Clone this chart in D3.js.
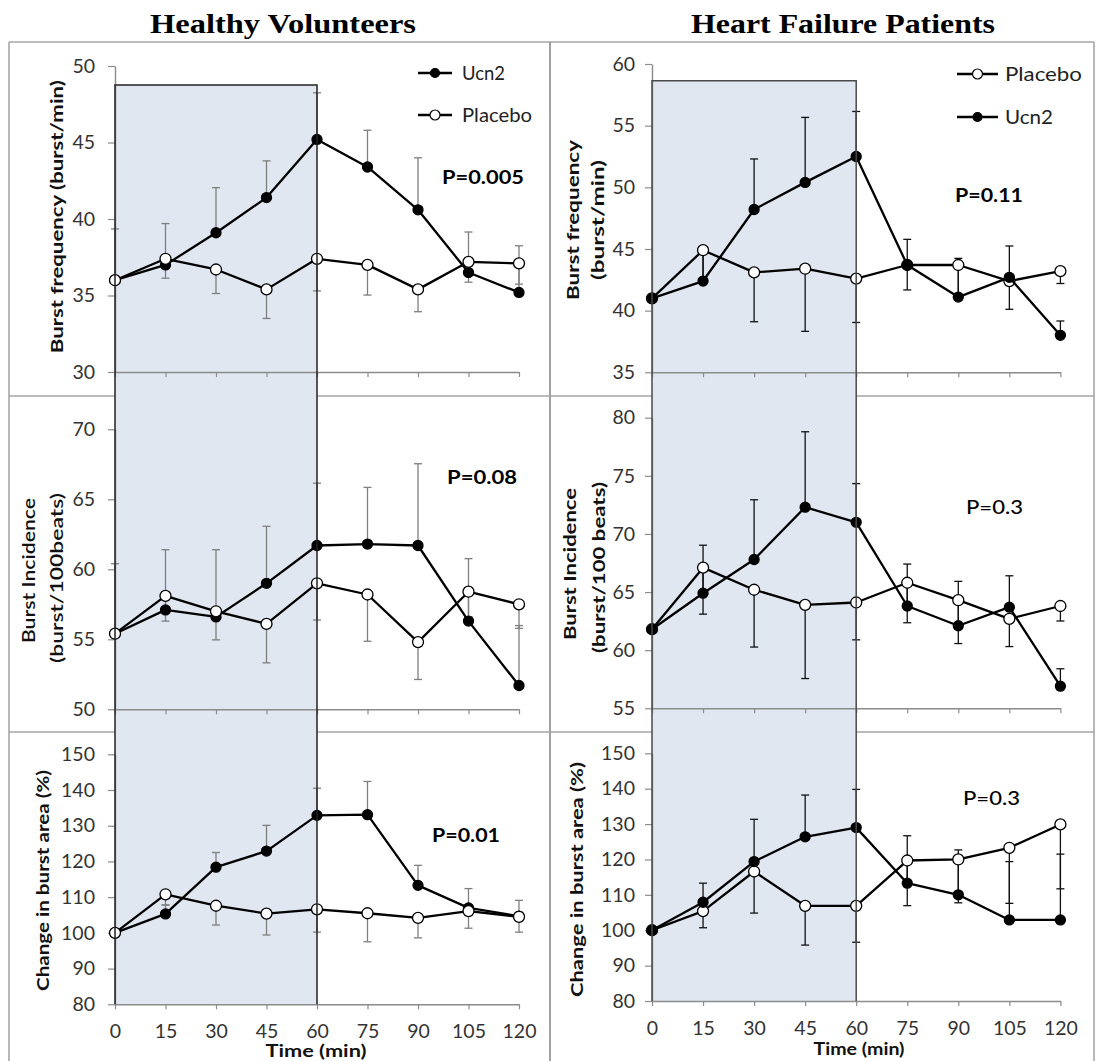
<!DOCTYPE html>
<html>
<head>
<meta charset="utf-8">
<script src="https://cdn.jsdelivr.net/npm/d3@7"></script>
<style>
  html, body { margin: 0; padding: 0; background: #fff; }
  svg { display: block; }
  text { font-family: Lato, "Open Sans", "Liberation Sans", sans-serif; }
</style>
</head>
<body>
<svg id="chart" width="1096" height="1061"></svg>
<script>
// ---------------- DATA ----------------
const times = [0, 15, 30, 45, 60, 75, 90, 105, 120];
const columnTitles = ["Healthy Volunteers", "Heart Failure Patients"];

// Healthy volunteers - burst frequency (burst/min)
const hvFreqUcn2 = [36.0, 37.0, 39.1, 41.4, 45.2, 43.4, 40.6, 36.5, 35.2];
const hvFreqUcn2Err = [3.35, 2.7, 2.95, 2.4, 3.05, 2.4, 3.4, 2.65, 3.05];
const hvFreqPlacebo = [36.0, 37.4, 36.7, 35.4, 37.4, 37.0, 35.4, 37.2, 37.1];
const hvFreqPlaceboErr = [0, 1.27, 1.57, 1.9, 2.1, 1.97, 1.46, 1.33, 1.36];
const hvFreqTicks = [30, 35, 40, 45, 50];

// Healthy volunteers - burst incidence (burst/100beats)
const hvIncUcn2 = [55.4, 57.1, 56.6, 59.0, 61.7, 61.8, 61.7, 56.3, 51.7];
const hvIncUcn2Err = [5.0, 4.3, 4.8, 4.07, 4.45, 4.05, 5.84, 4.46, 4.28];
const hvIncPlacebo = [55.4, 58.1, 57.0, 56.1, 59.0, 58.2, 54.8, 58.4, 57.5];
const hvIncPlaceboErr = [0, 1.8, 2.04, 2.78, 2.62, 3.34, 2.67, 1.8, 1.72];
const hvIncTicks = [50, 55, 60, 65, 70];

// Healthy volunteers - change in burst area (%)
const hvAreaUcn2 = [100, 105.3, 118.4, 122.9, 132.9, 133.1, 113.3, 107.0, 104.7];
const hvAreaUcn2Err = [0, 2.5, 4.1, 7.2, 7.6, 9.3, 5.6, 5.4, 4.4];
const hvAreaPlacebo = [100, 110.8, 107.6, 105.4, 106.6, 105.5, 104.2, 106.1, 104.5];
const hvAreaPlaceboErr = [0, 3.0, 5.4, 6.0, 6.4, 8.0, 5.6, 4.8, 4.3];
const hvAreaTicks = [80, 90, 100, 110, 120, 130, 140, 150];

// Heart failure - burst frequency (burst/min)
const hfFreqUcn2 = [41.0, 42.4, 48.2, 50.4, 52.5, 43.7, 41.1, 42.7, 38.0];
const hfFreqUcn2Err = [0, 2.3, 4.1, 5.27, 3.65, 2.08, 3.14, 2.54, 1.16];
const hfFreqPlacebo = [41.0, 44.9, 43.1, 43.4, 42.6, 43.7, 43.7, 42.4, 43.2];
const hfFreqPlaceboErr = [0, 2.3, 4.0, 5.08, 3.56, 2.02, 2.5, 2.29, 1.0];
const hfFreqTicks = [35, 40, 45, 50, 55, 60];

// Heart failure - burst incidence (burst/100 beats)
const hfIncUcn2 = [61.8, 64.9, 67.8, 72.3, 71.0, 63.8, 62.1, 63.7, 56.9];
const hfIncUcn2Err = [0, 4.13, 5.14, 6.49, 3.33, 3.61, 3.82, 2.7, 1.5];
const hfIncPlacebo = [61.8, 67.1, 65.2, 63.9, 64.1, 65.8, 64.3, 62.7, 63.8];
const hfIncPlaceboErr = [0, 4.0, 4.93, 6.34, 3.21, 3.44, 3.73, 2.39, 1.29];
const hfIncTicks = [55, 60, 65, 70, 75, 80];

// Heart failure - change in burst area (%)
const hfAreaUcn2 = [100, 107.9, 119.4, 126.4, 129.0, 113.3, 110.0, 102.9, 102.9];
const hfAreaUcn2Err = [0, 5.4, 11.95, 11.8, 10.8, 13.4, 12.7, 16.5, 18.6];
const hfAreaPlacebo = [100, 105.4, 116.6, 106.9, 106.9, 119.7, 120.0, 123.3, 129.9];
const hfAreaPlaceboErr = [0, 4.7, 11.75, 11.1, 10.3, 12.75, 12.25, 15.7, 18.2];
const hfAreaTicks = [80, 90, 100, 110, 120, 130, 140, 150];

const pValues = ["P=0.005", "P=0.08", "P=0.01", "P=0.11", "P=0.3", "P=0.3"];

// ---------------- LAYOUT ----------------
const svg = d3.select("#chart");

const colLayout = [
  { x0: 115, x1: 519, shade: { y0: 85, y1: 1004.3 }, shadeStroke: "#222", errColor: "#7f7f7f",
    tickPad: 13, titleX: 283, titleLen: 266, legendLineX: [418, 452], legendTextX: 462 },
  { x0: 652, x1: 1060.4, shade: { y0: 80.7, y1: 1001 }, shadeStroke: "#4a4a4a", errColor: "#111",
    tickPad: 10, titleX: 843, titleLen: 304, legendLineX: [957, 998], legendTextX: 1005 }
];

const panels = [
  { col: 0, range: [372, 66], ticks: hvFreqTicks,
    series: [
      { name: "Ucn2", vals: hvFreqUcn2, err: hvFreqUcn2Err, dir: 1, filled: true },
      { name: "Placebo", vals: hvFreqPlacebo, err: hvFreqPlaceboErr, dir: -1, filled: false }],
    labels: [{ t: "Burst frequency (burst/min)", x: 56, cy: 216.7, len: 273 }],
    p: { t: pValues[0], x: 442, y: 184, len: 82, w: 700 },
    legend: [{ name: "Ucn2", filled: true, y: 73, len: 43 }, { name: "Placebo", filled: false, y: 115, len: 70 }] },
  { col: 0, range: [709.3, 429.3], ticks: hvIncTicks,
    series: [
      { name: "Ucn2", vals: hvIncUcn2, err: hvIncUcn2Err, dir: 1, filled: true },
      { name: "Placebo", vals: hvIncPlacebo, err: hvIncPlaceboErr, dir: -1, filled: false }],
    labels: [{ t: "Burst Incidence", x: 28, cy: 570.5, len: 145, w: 600 },
             { t: "(burst/100beats)", x: 56, cy: 578, len: 170, w: 600 }],
    p: { t: pValues[1], x: 447, y: 484, len: 70, w: 700 } },
  { col: 0, range: [1004.3, 754.3], ticks: hvAreaTicks, bottom: true, tickLabelY: 1038, timeY: 1057,
    series: [
      { name: "Ucn2", vals: hvAreaUcn2, err: hvAreaUcn2Err, dir: 1, filled: true },
      { name: "Placebo", vals: hvAreaPlacebo, err: hvAreaPlaceboErr, dir: -1, filled: false }],
    labels: [{ t: "Change in burst area (%)", x: 42, cy: 880.5, len: 221 }],
    p: { t: pValues[2], x: 432, y: 842, len: 68, w: 700 },
    time: { x: 316, len: 101 } },
  { col: 1, range: [372.3, 64], ticks: hfFreqTicks,
    series: [
      { name: "Placebo", vals: hfFreqPlacebo, err: hfFreqPlaceboErr, dir: -1, filled: false },
      { name: "Ucn2", vals: hfFreqUcn2, err: hfFreqUcn2Err, dir: 1, filled: true }],
    labels: [{ t: "Burst frequency", x: 572.5, cy: 220, len: 160 },
             { t: "(burst/min)", x: 597, cy: 220, len: 120 }],
    p: { t: pValues[3], x: 955, y: 202, len: 68, w: 700 },
    legend: [{ name: "Placebo", filled: false, y: 74, len: 77 }, { name: "Ucn2", filled: true, y: 117, len: 48 }] },
  { col: 1, range: [708.3, 417.7], ticks: hfIncTicks,
    series: [
      { name: "Placebo", vals: hfIncPlacebo, err: hfIncPlaceboErr, dir: -1, filled: false },
      { name: "Ucn2", vals: hfIncUcn2, err: hfIncUcn2Err, dir: 1, filled: true }],
    labels: [{ t: "Burst Incidence", x: 569, cy: 564, len: 152 },
             { t: "(burst/100 beats)", x: 598.7, cy: 567.5, len: 171 }],
    p: { t: pValues[4], x: 966, y: 514, len: 57, w: 500 } },
  { col: 1, range: [1001, 753.3], ticks: hfAreaTicks, bottom: true, tickLabelY: 1035, timeY: 1055,
    series: [
      { name: "Placebo", vals: hfAreaPlacebo, err: hfAreaPlaceboErr, dir: -1, filled: false },
      { name: "Ucn2", vals: hfAreaUcn2, err: hfAreaUcn2Err, dir: 1, filled: true }],
    labels: [{ t: "Change in burst area (%)", x: 576, cy: 879.5, len: 235 }],
    p: { t: pValues[5], x: 963, y: 805, len: 57, w: 500 },
    time: { x: 859, len: 91 } }
];

// ---------------- FRAME ----------------
const frame = svg.append("g").attr("fill", "none");
frame.append("line").attr("x1", 9).attr("x2", 1094).attr("y1", 42).attr("y2", 42).attr("stroke", "#a6a6a6").attr("stroke-width", 1.6);
frame.append("line").attr("x1", 9).attr("x2", 9).attr("y1", 42).attr("y2", 1061).attr("stroke", "#a6a6a6").attr("stroke-width", 1.6);
frame.append("line").attr("x1", 550).attr("x2", 550).attr("y1", 42).attr("y2", 1061).attr("stroke", "#8a8a8a").attr("stroke-width", 1.6);
frame.append("line").attr("x1", 1094).attr("x2", 1094).attr("y1", 42).attr("y2", 1061).attr("stroke", "#a6a6a6").attr("stroke-width", 1.6);
[396, 732].forEach(y => {
  frame.append("line").attr("x1", 9).attr("x2", 1094).attr("y1", y).attr("y2", y).attr("stroke", "#a6a6a6").attr("stroke-width", 1.6);
});

// titles
columnTitles.forEach((t, i) => {
  svg.append("text").text(t)
    .attr("x", colLayout[i].titleX).attr("y", 33)
    .attr("text-anchor", "middle")
    .style("font-family", "'Liberation Serif', 'Times New Roman', serif")
    .style("font-weight", 700).style("font-size", "28px")
    .attr("textLength", colLayout[i].titleLen).attr("lengthAdjust", "spacingAndGlyphs")
    .attr("fill", "#000");
});

// shaded infusion periods (0–60 min), spanning all three rows of each column
colLayout.forEach(c => {
  const x = d3.scaleLinear().domain([0, 120]).range([c.x0, c.x1]);
  svg.append("rect")
    .attr("x", x(0)).attr("y", c.shade.y0)
    .attr("width", x(60) - x(0)).attr("height", c.shade.y1 - c.shade.y0)
    .attr("fill", "#e0e7f1");
});

// ---------------- PANELS ----------------
panels.forEach(p => {
  const c = colLayout[p.col];
  const x = d3.scaleLinear().domain([0, 120]).range([c.x0, c.x1]);
  const y = d3.scaleLinear().domain([p.ticks[0], p.ticks[p.ticks.length - 1]]).range(p.range);
  const g = svg.append("g");

  // axes
  const yAxis = d3.axisLeft(y).tickValues(p.ticks).tickSize(7).tickSizeOuter(0).tickPadding(c.tickPad);
  const ya = g.append("g").attr("transform", `translate(${x(0)},0)`).call(yAxis);
  const xAxis = d3.axisBottom(x).tickValues(times).tickSize(5).tickSizeOuter(0)
    .tickFormat(p.bottom ? d3.format("d") : "");
  const xa = g.append("g").attr("transform", `translate(0,${y.range()[0]})`).call(xAxis);
  [ya, xa].forEach(a => {
    a.select(".domain").attr("stroke", "#8c8c8c").attr("stroke-width", 1.4);
    a.selectAll(".tick line").attr("stroke", "#8c8c8c").attr("stroke-width", 1.2);
    a.selectAll(".tick text").attr("fill", "#333").style("font-size", "19.5px")
      .style("font-family", "Lato, 'Open Sans', sans-serif");
  });
  if (p.bottom) {
    xa.selectAll(".tick text").attr("y", null).attr("dy", null)
      .attr("transform", `translate(0,${p.tickLabelY - y.range()[0]})`);
  }

  // error bars
  const eg = g.append("g").attr("stroke", c.errColor).attr("stroke-width", 1.3);
  p.series.forEach(s => {
    s.vals.forEach((v, i) => {
      if (!s.err[i]) return;
      const end = v + s.dir * s.err[i];
      eg.append("line").attr("x1", x(times[i])).attr("x2", x(times[i]))
        .attr("y1", y(v)).attr("y2", y(end));
      eg.append("line").attr("x1", x(times[i]) - 4).attr("x2", x(times[i]) + 4)
        .attr("y1", y(end)).attr("y2", y(end));
    });
  });

  // series lines + markers
  const line = d3.line().x((d, i) => x(times[i])).y(d => y(d));
  p.series.forEach(s => {
    g.append("path").datum(s.vals).attr("d", line)
      .attr("fill", "none").attr("stroke", "#000").attr("stroke-width", 2.3)
      .attr("stroke-linejoin", "round");
    g.selectAll(null).data(s.vals).enter().append("circle")
      .attr("cx", (d, i) => x(times[i])).attr("cy", d => y(d))
      .attr("r", s.filled ? 5 : 5.5)
      .attr("fill", s.filled ? "#000" : "#fff")
      .attr("stroke", "#000").attr("stroke-width", 1.3);
  });

  // y-axis labels
  p.labels.forEach(l => {
    g.append("text").text(l.t)
      .attr("transform", `translate(${l.x},${l.cy}) rotate(-90)`)
      .attr("text-anchor", "middle").attr("dominant-baseline", "central")
      .style("font-weight", l.w || 700).style("font-size", "17.5px")
      .attr("textLength", l.len).attr("lengthAdjust", "spacingAndGlyphs")
      .attr("fill", "#111");
  });

  // p value
  g.append("text").text(p.p.t).attr("x", p.p.x).attr("y", p.p.y)
    .style("font-weight", p.p.w).style("font-size", "19px")
    .attr("textLength", p.p.len).attr("lengthAdjust", "spacingAndGlyphs")
    .attr("fill", "#000");

  // time label
  if (p.time) {
    g.append("text").text("Time (min)")
      .attr("x", p.time.x).attr("y", p.timeY).attr("text-anchor", "middle")
      .style("font-weight", 700).style("font-size", "16.5px")
      .attr("textLength", p.time.len).attr("lengthAdjust", "spacingAndGlyphs")
      .attr("fill", "#111");
  }

  // legend
  if (p.legend) {
    p.legend.forEach(l => {
      const [lx0, lx1] = c.legendLineX;
      g.append("line").attr("x1", lx0).attr("x2", lx1).attr("y1", l.y).attr("y2", l.y)
        .attr("stroke", "#000").attr("stroke-width", 2.3);
      g.append("circle").attr("cx", (lx0 + lx1) / 2).attr("cy", l.y).attr("r", l.filled ? 4.5 : 5)
        .attr("fill", l.filled ? "#000" : "#fff").attr("stroke", "#000").attr("stroke-width", 1.2);
      g.append("text").text(l.name).attr("x", c.legendTextX).attr("y", l.y + 7)
        .style("font-size", "19px")
        .attr("textLength", l.len).attr("lengthAdjust", "spacingAndGlyphs")
        .attr("fill", "#222");
    });
  }
});

// infusion-period rectangle outlines (top, left, right edges) drawn over the axes
colLayout.forEach(c => {
  const x = d3.scaleLinear().domain([0, 120]).range([c.x0, c.x1]);
  svg.append("path")
    .attr("d", `M${x(0)},${c.shade.y1} V${c.shade.y0} H${x(60)} V${c.shade.y1}`)
    .attr("fill", "none").attr("stroke", c.shadeStroke).attr("stroke-width", 1.5);
});
</script>
</body>
</html>
